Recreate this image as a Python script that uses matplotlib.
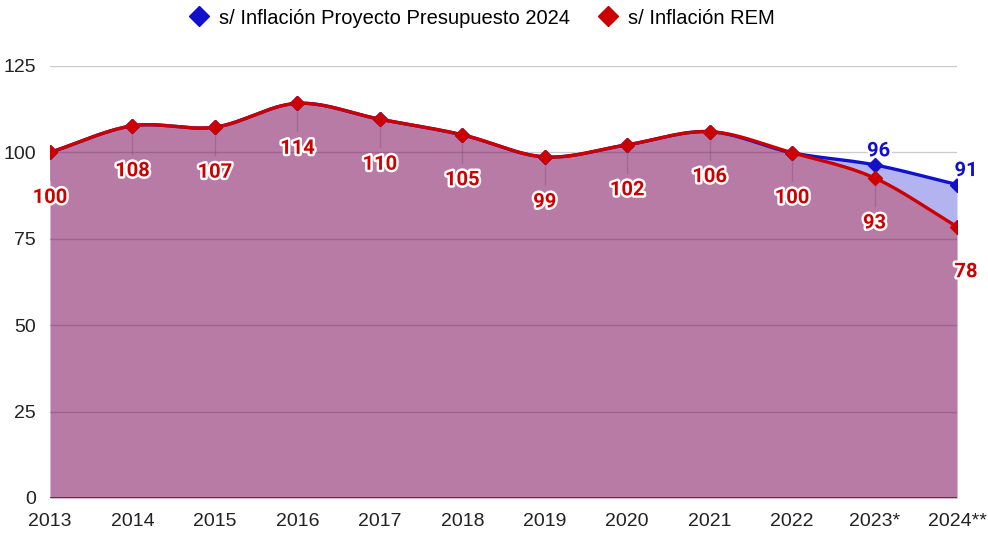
import matplotlib
matplotlib.use("Agg")
import matplotlib.pyplot as plt
import matplotlib.patheffects as pe
from matplotlib.lines import Line2D
import numpy as np

# Data
years = ["2013", "2014", "2015", "2016", "2017", "2018", "2019", "2020",
         "2021", "2022", "2023*", "2024**"]
presupuesto = [100, 107.7, 107.3, 114.2, 109.6, 105.1, 98.7, 102.2, 106.0, 99.9, 96.4, 90.7]
rem = [100, 107.7, 107.3, 114.2, 109.6, 105.1, 98.7, 102.2, 106.0, 99.9, 92.6, 78.5]
yticks = [0, 25, 50, 75, 100, 125]

blue = "#1111cc"
red = "#cc0000"


def smooth(y, n=30):
    # Catmull-Rom style curve through the points (drawing only)
    y = np.asarray(y, dtype=float)
    k = len(y)
    m = np.zeros(k)
    m[1:-1] = (y[2:] - y[:-2]) / 2.0
    m[0] = y[1] - y[0]
    m[-1] = y[-1] - y[-2]
    xs, ys = [], []
    for i in range(k - 1):
        t = np.linspace(0, 1, n, endpoint=(i == k - 2))
        h00 = 2 * t**3 - 3 * t**2 + 1
        h10 = t**3 - 2 * t**2 + t
        h01 = -2 * t**3 + 3 * t**2
        h11 = t**3 - t**2
        xs.append(i + t)
        ys.append(h00 * y[i] + h10 * m[i] + h01 * y[i + 1] + h11 * m[i + 1])
    return np.concatenate(xs), np.concatenate(ys)


fig = plt.figure(figsize=(9.88, 5.33), dpi=100)
ax = fig.add_axes([50 / 988, 1 - 498 / 533, 907 / 988, 432 / 533])

x = np.arange(len(years))

for v in yticks[1:]:
    ax.axhline(v, color="#cccccc", lw=1, zorder=0)

for series, col in [(presupuesto, "#0c0ccc"), (rem, "#c00006")]:
    sx, sy = smooth(series)
    ax.fill_between(sx, 0, sy, color=col, alpha=0.31, lw=0, zorder=1)

for series, col in [(presupuesto, blue), (rem, red)]:
    sx, sy = smooth(series)
    ax.plot(sx, sy, color=col, lw=2.4, zorder=3, solid_capstyle="round")
    ax.plot(x, series, ls="none", marker="D", ms=7.5, color=col, zorder=4)

ax.axhline(0, color="#333333", lw=1.2, zorder=5)

# annotations
outline = [pe.withStroke(linewidth=3.5, foreground="white")]
for i, v in enumerate(rem):
    dx = 9 if i == len(rem) - 1 else 0
    ax.plot([i, i], [v, v - 28 * 125 / 432], color="#7a4a6a", alpha=0.35, lw=1, zorder=2)
    ax.annotate(f"{round(v):d}", xy=(i, v), xytext=(dx, -45), textcoords="offset pixels",
                ha="center", va="center", fontsize=14.5, fontweight="bold",
                family="Roboto", color=red, path_effects=outline, zorder=6)
for i, (a, b) in enumerate(zip(presupuesto, rem)):
    if abs(a - b) > 0.5:
        dx = 9 if i == len(rem) - 1 else 4
        ax.annotate(f"{round(a):d}", xy=(i, a), xytext=(dx, 14), textcoords="offset pixels",
                    ha="center", va="center", fontsize=14.5, fontweight="bold",
                    family="Roboto", color=blue, path_effects=outline, zorder=6)

ax.set_xlim(0, len(years) - 1)
ax.set_ylim(0, 125)
ax.set_yticks(yticks)
ax.set_xticks(x)
ax.set_xticklabels(years)
ax.tick_params(length=0, labelsize=14, colors="#222222", labelfontfamily="Liberation Sans")
ax.tick_params(axis="y", pad=10)
ax.tick_params(axis="x", pad=11)
for s in ax.spines.values():
    s.set_visible(False)

handles = [Line2D([], [], ls="none", marker="D", ms=10, color=blue),
           Line2D([], [], ls="none", marker="D", ms=10, color=red)]
fig.legend(handles, ["s/ Inflación Proyecto Presupuesto 2024", "s/ Inflación REM"],
           loc="center", bbox_to_anchor=(482 / 988, 1 - 18 / 533), ncol=2, frameon=False,
           prop={"family": "Liberation Sans", "size": 14.5}, handletextpad=0.5,
           columnspacing=1.4, handlelength=1.0)

fig.savefig("out.png", dpi=100)
